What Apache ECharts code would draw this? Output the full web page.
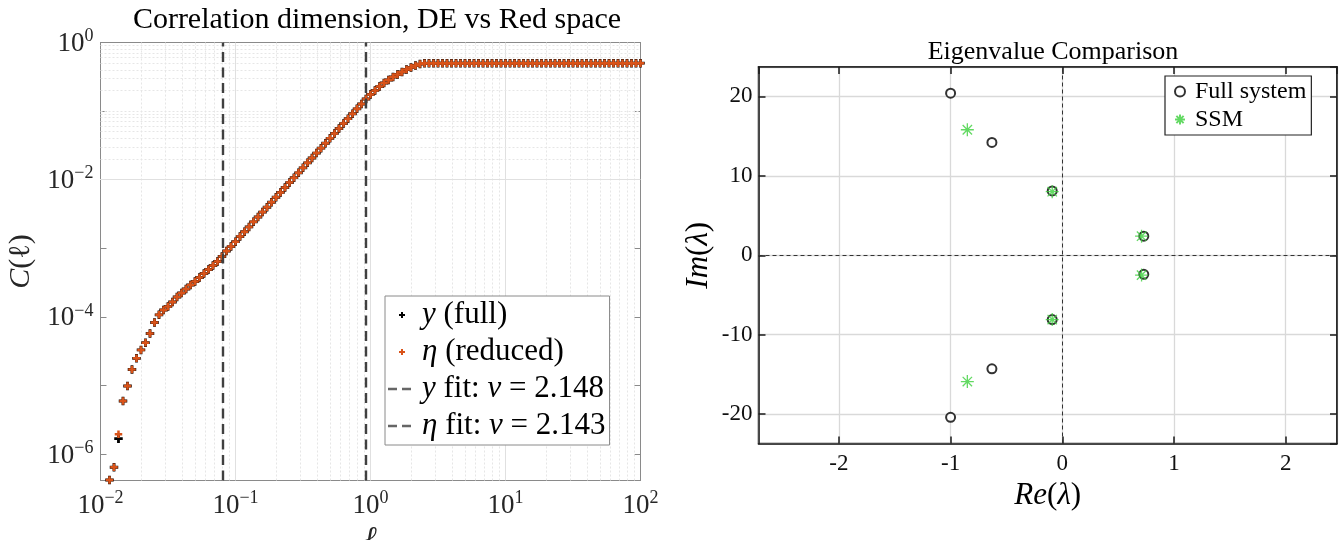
<!DOCTYPE html>
<html><head><meta charset="utf-8">
<script src="https://cdn.jsdelivr.net/npm/echarts@6/dist/echarts.min.js"></script>
<style>html,body{margin:0;padding:0;background:#fff}#c{width:1340px;height:540px}</style>
</head><body><div id="c"></div>
<script>
// ---------- Left chart data: correlation sum C(l) ----------
const ell = [0.01166,0.01259,0.01359,0.01468,0.01585,0.01711,0.01848,0.01995,0.02154,0.02326,0.02512,0.02712,0.02929,0.03162,0.03415,0.03687,0.03981,0.04299,0.04642,0.05012,0.05412,0.05843,0.06310,0.06813,0.07356,0.07943,0.08577,0.09261,
0.1000,0.1080,0.1166,0.1259,0.1359,0.1468,0.1585,0.1711,0.1848,0.1995,0.2154,0.2326,0.2512,0.2712,0.2929,0.3162,0.3415,0.3687,0.3981,0.4299,0.4642,0.5012,0.5412,0.5843,0.6310,0.6813,0.7356,0.7943,0.8577,0.9261,
1.000,1.080,1.166,1.259,1.359,1.468,1.585,1.711,1.848,1.995,2.154,2.326,2.512,2.712,2.929,3.162,3.415,3.687,3.981,4.299,4.642,5.012,5.412,5.843,6.310,6.813,7.356,7.943,8.577,9.261,
10.00,10.80,11.66,12.59,13.59,14.68,15.85,17.11,18.48,19.95,21.54,23.26,25.12,27.12,29.29,31.62,34.15,36.87,39.81,42.99,46.42,50.12,54.12,58.43,63.10,68.13,73.56,79.43,85.77,92.61,100.0];

const cFull = [4.19e-7,6.43e-7,1.68e-6,5.94e-6,9.84e-6,1.71e-5,2.49e-5,3.30e-5,4.21e-5,5.73e-5,8.28e-5,1.07e-4,1.26e-4,1.42e-4,1.65e-4,1.95e-4,2.23e-4,2.55e-4,2.92e-4,3.28e-4,3.75e-4,4.29e-4,4.91e-4,5.61e-4,6.42e-4,7.59e-4,9.14e-4,
1.06e-3,1.25e-3,1.48e-3,1.74e-3,2.05e-3,2.43e-3,2.86e-3,3.37e-3,3.97e-3,4.69e-3,5.54e-3,6.53e-3,7.69e-3,9.08e-3,1.07e-2,1.26e-2,1.49e-2,1.76e-2,2.07e-2,2.44e-2,2.88e-2,3.40e-2,4.01e-2,4.73e-2,5.58e-2,6.58e-2,7.75e-2,9.16e-2,
0.108,0.127,0.150,0.175,0.200,0.228,0.257,0.284,0.314,0.342,0.372,0.404,0.432,0.462,0.484,0.497,
0.5,0.5,0.5,0.5,0.5,0.5,0.5,0.5,0.5,0.5,0.5,0.5,0.5,0.5,0.5,0.5,0.5,0.5,0.5,0.5,0.5,0.5,0.5,0.5,
0.5,0.5,0.5,0.5,0.5,0.5,0.5,0.5,0.5,0.5,0.5,0.5,0.5,0.5,0.5,0.5,0.5,0.5,0.5,0.5,0.5,0.5,0.5,0.5];

const cReduced = [4.19e-7,6.43e-7,1.94e-6,5.94e-6,9.84e-6,1.71e-5,2.49e-5,3.30e-5,4.21e-5,5.73e-5,8.28e-5,1.07e-4,1.26e-4,1.42e-4,1.65e-4,1.95e-4,2.23e-4,2.55e-4,2.92e-4,3.28e-4,3.75e-4,4.29e-4,4.91e-4,5.61e-4,6.42e-4,7.59e-4,9.14e-4,
1.06e-3,1.25e-3,1.48e-3,1.74e-3,2.05e-3,2.43e-3,2.86e-3,3.37e-3,3.97e-3,4.69e-3,5.54e-3,6.53e-3,7.69e-3,9.08e-3,1.07e-2,1.26e-2,1.49e-2,1.76e-2,2.07e-2,2.44e-2,2.88e-2,3.40e-2,4.01e-2,4.73e-2,5.58e-2,6.58e-2,7.75e-2,9.16e-2,
0.108,0.127,0.150,0.175,0.200,0.228,0.257,0.284,0.314,0.342,0.372,0.404,0.432,0.462,0.484,0.497,
0.5,0.5,0.5,0.5,0.5,0.5,0.5,0.5,0.5,0.5,0.5,0.5,0.5,0.5,0.5,0.5,0.5,0.5,0.5,0.5,0.5,0.5,0.5,0.5,
0.5,0.5,0.5,0.5,0.5,0.5,0.5,0.5,0.5,0.5,0.5,0.5,0.5,0.5,0.5,0.5,0.5,0.5,0.5,0.5,0.5,0.5,0.5,0.5];

const fitBounds = [0.0846, 0.915];
const seriesNamesLeft = ['y (full)', 'η (reduced)', 'y fit: ν = 2.148', 'η fit: ν = 2.143'];

// ---------- Right chart data: eigenvalues ----------
const fullRe = [-1.0, -0.63, -0.09, 0.73, 0.73, -0.09, -0.63, -1.0];
const fullIm = [20.4, 14.2, 8.1, 2.4, -2.4, -8.1, -14.3, -20.4];
const ssmRe = [-0.85, -0.09, 0.71, 0.71, -0.09, -0.85];
const ssmIm = [15.8, 8.0, 2.4, -2.5, -8.1, -15.9];

// ---------- styles ----------
const FF = 'Liberation Serif';
const TXT = '#262626';
const plusSym = 'path://M-1,-3h2v2h2v2h-2v2h-2v-2h-2v-2h2z';
const frame = 'M0,0h0.01v0.01h-0.01z M29.99,13.99h0.01v0.01h-0.01z ';
const plusLegend = 'path://' + frame + 'M14,4h2v2h2v2h-2v2h-2v-2h-2v-2h2z';
const dashLegend = 'path://' + frame + 'M1,5.8h9v2.4h-9z M15,5.8h9v2.4h-9z';
const starSym = 'path://M0,-5L0,5M-5,0L5,0M-3.6,-3.6L3.6,3.6M-3.6,3.6L3.6,-3.6';

function supStr(e) { return String(e).replace('-', '−'); }
function logLabel(v, evenOnly) {
  const lg = Math.log10(v), e = Math.round(lg);
  if (Math.abs(lg - e) > 1e-6) return '';
  if (evenOnly && e % 2 !== 0) return '';
  return '{b|10}{s|' + supStr(e) + '}';
}
const logRich = {
  b: {fontFamily: FF, fontSize: 27, color: TXT, lineHeight: 30, verticalAlign: 'bottom'},
  s: {fontFamily: FF, fontSize: 18, color: TXT, lineHeight: 18, verticalAlign: 'top'}
};

// grid lines for log axes (decade structure)
const gridMarks = [];
const majorGrid = {color: '#e0e0e0', width: 1, type: 'solid'};
const minorGrid = {color: '#e6e6e6', width: 1, type: [2, 2]};
for (let k = -2; k <= 1; k++) {
  for (let m = 1; m <= 9; m++) {
    const v = m * Math.pow(10, k);
    if (m === 1 && k === -2) continue;
    gridMarks.push({xAxis: v, lineStyle: m === 1 ? majorGrid : minorGrid});
  }
}
for (let k = -7; k <= -1; k++) {
  for (let m = 1; m <= 9; m++) {
    const v = m * Math.pow(10, k);
    if (v < 4.12e-7) continue;
    gridMarks.push({yAxis: v, lineStyle: (m === 1 && k % 2 === 0) ? majorGrid : minorGrid});
  }
}

const legendFmt = {
  'y (full)': '{i|y} (full)',
  'η (reduced)': '{i|η} (reduced)',
  'y fit: ν = 2.148': '{i|y} fit: {i|ν} = 2.148',
  'η fit: ν = 2.143': '{i|η} fit: {i|ν} = 2.143'
};

const fitMarkLine = (x) => ({silent: true, z: 3, symbol: ['none', 'none'], label: {show: false},
  lineStyle: {color: '#404040', width: 2.4, type: [10, 5.5]}, data: [{xAxis: x}]});

const chart = echarts.init(document.getElementById('c'), null, {renderer: 'canvas'});
const option = {
  backgroundColor: '#fff',
  animation: false,
  title: [
    {text: 'Correlation dimension, DE vs Red space', left: 372, top: 0, textAlign: 'center',
     textStyle: {fontFamily: FF, fontSize: 30, fontWeight: 'normal', color: '#000'}},
    {text: 'Eigenvalue Comparison', left: 1048, top: 34, textAlign: 'center',
     textStyle: {fontFamily: FF, fontSize: 26, fontWeight: 'normal', color: '#000'}}
  ],
  legend: [
    {
      data: [
        {name: seriesNamesLeft[0], icon: plusLegend},
        {name: seriesNamesLeft[1], icon: plusLegend},
        {name: seriesNamesLeft[2], icon: dashLegend},
        {name: seriesNamesLeft[3], icon: dashLegend}
      ],
      orient: 'vertical', left: 385, top: 296, z: 10,
      itemWidth: 30, itemHeight: 14, itemGap: 5,
      padding: [3, 4, 3, 2],
      borderColor: '#8a8a8a', borderWidth: 1, backgroundColor: '#fff',
      selectedMode: false,
      formatter: n => legendFmt[n] || n,
      textStyle: {fontFamily: FF, fontSize: 31, color: '#000', lineHeight: 32,
        rich: {i: {fontFamily: FF, fontSize: 31, fontStyle: 'italic', color: '#000', lineHeight: 32}}}
    },
    {
      data: ['Full system', 'SSM'],
      orient: 'vertical', left: 1165, top: 76, z: 10,
      itemWidth: 20, itemHeight: 10, itemGap: 3,
      padding: [3, 5, 3, 9],
      borderColor: '#222', borderWidth: 1.2, backgroundColor: '#fff',
      selectedMode: false,
      textStyle: {fontFamily: FF, fontSize: 24, color: '#000', lineHeight: 25}
    }
  ],
  grid: [
    {left: 100.5, right: 699.5, top: 42.5, bottom: 59.5, show: false, outerBoundsMode: 'none'},
    {left: 758.5, right: 3, top: 67, bottom: 96.5, show: true, borderColor: '#1a1a1a', borderWidth: 1.5,
     backgroundColor: 'transparent', outerBoundsMode: 'none'}
  ],
  xAxis: [
    {type: 'log', gridIndex: 0, min: 0.01, max: 100, logBase: 10,
     axisLine: {show: true, lineStyle: {color: '#8a8a8a', width: 1}},
     axisTick: {show: true, inside: true, length: 6, lineStyle: {color: '#8a8a8a'}},
     splitLine: {show: false},
     axisLabel: {formatter: v => logLabel(v, false), rich: logRich, margin: 9},
     name: 'ℓ', nameLocation: 'middle', nameGap: 36,
     nameTextStyle: {fontFamily: FF, fontSize: 30, fontStyle: 'italic', color: TXT}},
    {type: 'log', gridIndex: 0, min: 0.01, max: 100, logBase: 10, position: 'top',
     axisLine: {show: true, lineStyle: {color: '#8a8a8a', width: 1}},
     axisTick: {show: true, inside: true, length: 6, lineStyle: {color: '#8a8a8a'}},
     splitLine: {show: false}, axisLabel: {show: false}},
    {type: 'value', gridIndex: 1, min: -2.72, max: 2.46,
     axisLine: {show: true, onZero: false, lineStyle: {color: '#1a1a1a', width: 1.5}},
     axisTick: {show: true, inside: true, length: 7, lineStyle: {color: '#1a1a1a', width: 1.5}},
     splitLine: {show: true, lineStyle: {color: '#d9d9d9', width: 1.3}},
     axisLabel: {showMinLabel: false, showMaxLabel: false, fontFamily: FF, fontSize: 23, color: '#111', margin: 9},
     name: '{i|Re}({i|λ})', nameLocation: 'middle', nameGap: 34,
     nameTextStyle: {fontFamily: FF, fontSize: 31, color: '#000',
       rich: {i: {fontFamily: FF, fontSize: 31, fontStyle: 'italic', color: '#000'}}}},
    {type: 'value', gridIndex: 1, min: -2.72, max: 2.46, position: 'top',
     axisLine: {show: true, onZero: false, lineStyle: {color: '#1a1a1a', width: 1.5}},
     axisTick: {show: true, inside: true, length: 7, lineStyle: {color: '#1a1a1a', width: 1.5}},
     splitLine: {show: false}, axisLabel: {show: false}}
  ],
  yAxis: [
    {type: 'log', gridIndex: 0, min: 4.12e-7, max: 1, logBase: 10,
     axisLine: {show: true, lineStyle: {color: '#8a8a8a', width: 1}},
     axisTick: {show: true, inside: true, length: 6, lineStyle: {color: '#8a8a8a'}},
     splitLine: {show: false},
     axisLabel: {formatter: v => logLabel(v, true), rich: logRich, margin: 7, showMinLabel: false},
     name: '{i|C}(ℓ)', nameLocation: 'middle', nameRotate: 90, nameGap: 64,
     nameTextStyle: {fontFamily: FF, fontSize: 30, color: TXT,
       rich: {i: {fontFamily: FF, fontSize: 30, fontStyle: 'italic', color: TXT}}}},
    {type: 'log', gridIndex: 0, min: 4.12e-7, max: 1, logBase: 10, position: 'right',
     axisLine: {show: true, lineStyle: {color: '#8a8a8a', width: 1}},
     axisTick: {show: true, inside: true, length: 6, lineStyle: {color: '#8a8a8a'}},
     splitLine: {show: false}, axisLabel: {show: false}},
    {type: 'value', gridIndex: 1, min: -23.7, max: 23.7,
     axisLine: {show: true, onZero: false, lineStyle: {color: '#1a1a1a', width: 1.5}},
     axisTick: {show: true, inside: true, length: 7, lineStyle: {color: '#1a1a1a', width: 1.5}},
     splitLine: {show: true, lineStyle: {color: '#d9d9d9', width: 1.3}},
     axisLabel: {showMinLabel: false, showMaxLabel: false, fontFamily: FF, fontSize: 23, color: '#111', margin: 6},
     name: '{i|Im}({i|λ})', nameLocation: 'middle', nameRotate: 90, nameGap: 44,
     nameTextStyle: {fontFamily: FF, fontSize: 31, color: '#000',
       rich: {i: {fontFamily: FF, fontSize: 31, fontStyle: 'italic', color: '#000'}}}},
    {type: 'value', gridIndex: 1, min: -23.7, max: 23.7, position: 'right',
     axisLine: {show: true, onZero: false, lineStyle: {color: '#1a1a1a', width: 1.5}},
     axisTick: {show: true, inside: true, length: 7, lineStyle: {color: '#1a1a1a', width: 1.5}},
     splitLine: {show: false}, axisLabel: {show: false}}
  ],
  series: [
    {name: 'gridlines', type: 'line', xAxisIndex: 0, yAxisIndex: 0, data: [], z: 1, silent: true,
     markLine: {silent: true, z: 1, symbol: ['none', 'none'], label: {show: false}, animation: false, data: gridMarks}},
    {name: seriesNamesLeft[0], type: 'scatter', xAxisIndex: 0, yAxisIndex: 0,
     data: ell.map((l, i) => [l, cFull[i]]), symbol: plusSym, symbolSize: 8.5,
     itemStyle: {color: '#000', opacity: 1}},
    {name: seriesNamesLeft[1], type: 'scatter', xAxisIndex: 0, yAxisIndex: 0,
     data: ell.map((l, i) => [l, cReduced[i]]), symbol: plusSym, symbolSize: 7.5,
     itemStyle: {color: '#D95319', opacity: 1}},
    {name: seriesNamesLeft[2], type: 'scatter', xAxisIndex: 0, yAxisIndex: 0, data: [],
     itemStyle: {color: '#404040'}, markLine: fitMarkLine(fitBounds[0])},
    {name: seriesNamesLeft[3], type: 'scatter', xAxisIndex: 0, yAxisIndex: 0, data: [],
     itemStyle: {color: '#404040'}, markLine: fitMarkLine(fitBounds[1])},
    {name: 'zerolines', type: 'line', xAxisIndex: 2, yAxisIndex: 2, data: [], z: 1, silent: true,
     markLine: {silent: true, z: 1, symbol: ['none', 'none'], label: {show: false},
       lineStyle: {color: '#333', width: 1, type: [4, 3]}, data: [{xAxis: 0}, {yAxis: 0}]}},
    {name: 'Full system', type: 'scatter', xAxisIndex: 2, yAxisIndex: 2,
     data: fullRe.map((r, i) => [r, fullIm[i]]), symbol: 'emptyCircle', symbolSize: 9,
     itemStyle: {color: '#000', borderColor: '#000', borderWidth: 1}},
    {name: 'SSM', type: 'scatter', xAxisIndex: 2, yAxisIndex: 2,
     data: ssmRe.map((r, i) => [r, ssmIm[i]]), symbol: starSym, symbolSize: 13,
     itemStyle: {color: 'rgba(0,0,0,0)', borderColor: '#3ccf3c', borderWidth: 1.3}}
  ]
};
chart.setOption(option);
</script></body></html>
